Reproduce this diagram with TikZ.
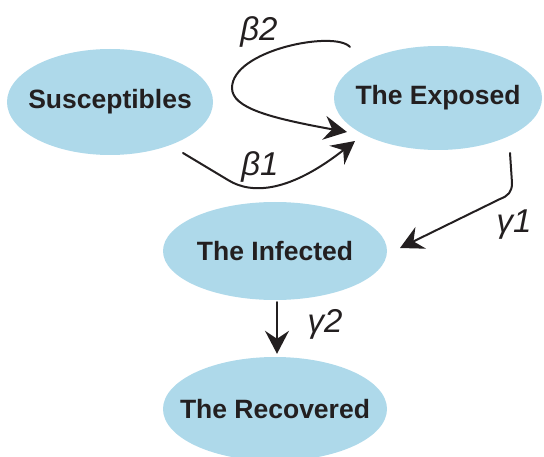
\documentclass[tikz,border=0pt]{standalone}
\usepackage{fontspec}
\setmainfont{Liberation Sans}
\usetikzlibrary{shapes.geometric,arrows.meta}
\definecolor{cellblue}{RGB}{174,217,234}
\definecolor{ink}{RGB}{35,31,32}
\newcommand{\zw}[1]{\makebox[0pt]{#1}}
\begin{document}
\begin{tikzpicture}[x=1pt,y=-1pt,
  state/.style={ellipse, fill=cellblue, inner sep=0pt, text=ink,
    font=\fontsize{26.5}{30}\selectfont\bfseries},
  flow/.style={line width=2pt, draw=ink, line cap=round,
    -{Stealth[length=23pt,width=24pt,inset=8pt]}},
  rate/.style={font=\fontsize{33}{36}\selectfont\itshape, text=ink, inner sep=0pt}]
\clip (0,0) rectangle (544,457);
\node[state, minimum width=206pt, minimum height=106pt] (sus) at (110,102) {\zw{Susceptibles}};
\node[state, minimum width=208pt, minimum height=104pt] (exp) at (438,98) {\zw{The Exposed}};
\node[state, minimum width=224pt, minimum height=98pt] (inf) at (275,251) {\zw{The Infected}};
\node[state, minimum width=224pt, minimum height=104pt] (rec) at (275,409) {\zw{The Recovered}};
% connector end points
\coordinate (b2s) at (350,47);
\coordinate (b2m) at (232,88);
\coordinate (b2e) at (347,132);
\coordinate (b1s) at (183,153);
\coordinate (b1m) at (228,180);
\coordinate (b1e) at (355,141);
\coordinate (g1s) at (510,153);
\coordinate (g1m) at (512,183);
\coordinate (g1k) at (500,199);
\coordinate (g1e) at (400,248);
% connectors
\draw[flow] (b2s) .. controls (335,30) and (232,50) .. (b2m)
  .. controls (232,108) and (270,118) .. (b2e);
\draw[flow] (b1s) -- (b1m) .. controls (252,195) and (290,192) .. (b1e);
\draw[flow] (g1s) -- (g1m) .. controls (512,192) and (508,196) .. (g1k) -- (g1e);
\draw[flow, shorten <=2pt, shorten >=3pt] (inf.south -| 277,0) -- (rec.north -| 277,0);
% rates
\node[rate] (lb2) at (259,32) {β2};
\node[rate] (lb1) at (260,167) {β1};
\node[rate] (lg1) at (514,225) {γ1};
\node[rate] (lg2) at (325,324) {γ2};
\end{tikzpicture}
\end{document}
